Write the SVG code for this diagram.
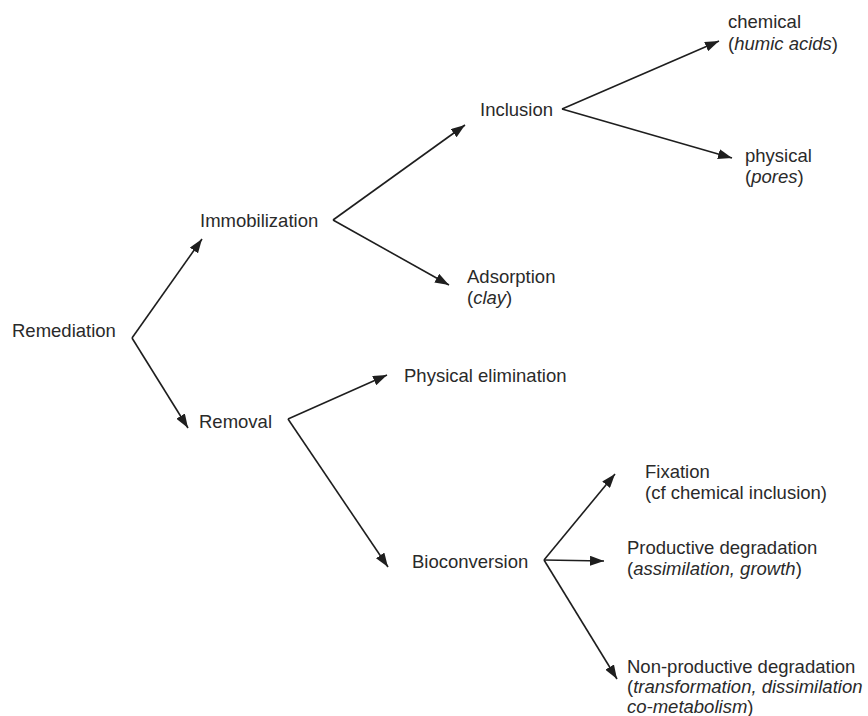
<svg xmlns="http://www.w3.org/2000/svg" width="868" height="716" viewBox="0 0 868 716">
<style>
text{font-family:"Liberation Sans",Arial,sans-serif;font-size:18.5px;fill:#2a2a2a}
.i{font-style:italic}
.c line{stroke:#1e1e1e;stroke-width:1.6;fill:none}
</style>
<defs>
<marker id="a" viewBox="0 0 14 10" refX="14" refY="5" markerWidth="14" markerHeight="10" markerUnits="userSpaceOnUse" orient="auto">
<path d="M0,0 L14,5 L0,10 Z" fill="#1e1e1e"/>
</marker>
</defs>
<rect width="868" height="716" fill="#fff"/>
<g class="c" id="connectors">
<line x1="132" y1="338" x2="202" y2="239" marker-end="url(#a)"/>
<line x1="132" y1="338" x2="188" y2="428" marker-end="url(#a)"/>
<line x1="333" y1="220" x2="465" y2="125" marker-end="url(#a)"/>
<line x1="333" y1="220" x2="449" y2="285" marker-end="url(#a)"/>
<line x1="562" y1="109" x2="719" y2="41" marker-end="url(#a)"/>
<line x1="562" y1="109" x2="732" y2="158" marker-end="url(#a)"/>
<line x1="288" y1="419" x2="387" y2="375" marker-end="url(#a)"/>
<line x1="288" y1="419" x2="388" y2="567" marker-end="url(#a)"/>
<line x1="544" y1="560" x2="615" y2="474" marker-end="url(#a)"/>
<line x1="544" y1="560" x2="604" y2="561" marker-end="url(#a)"/>
<line x1="544" y1="560" x2="617" y2="679" marker-end="url(#a)"/>
</g>
<g id="remediation"><text x="12" y="337">Remediation</text></g>
<g id="immobilization"><text x="200" y="227">Immobilization</text></g>
<g id="removal"><text x="199" y="428">Removal</text></g>
<g id="inclusion"><text x="480" y="116">Inclusion</text></g>
<g id="adsorption"><text x="467" y="283">Adsorption</text><text x="467" y="304">(<tspan class="i">clay</tspan>)</text></g>
<g id="chemical"><text x="728" y="28">chemical</text><text x="728" y="50">(<tspan class="i">humic acids</tspan>)</text></g>
<g id="physical"><text x="745" y="162">physical</text><text x="745" y="183">(<tspan class="i">pores</tspan>)</text></g>
<g id="physical-elimination"><text x="404" y="382">Physical elimination</text></g>
<g id="bioconversion"><text x="412" y="568">Bioconversion</text></g>
<g id="fixation"><text x="645" y="478">Fixation</text><text x="645" y="499">(cf chemical inclusion)</text></g>
<g id="productive"><text x="627" y="554">Productive degradation</text><text x="627" y="575">(<tspan class="i">assimilation, growth</tspan>)</text></g>
<g id="non-productive"><text x="627" y="673">Non-productive degradation</text><text x="627" y="693">(<tspan class="i">transformation, dissimilation</tspan></text><text x="627" y="713" class="i">co-metabolism<tspan style="font-style:normal">)</tspan></text></g>
</svg>
